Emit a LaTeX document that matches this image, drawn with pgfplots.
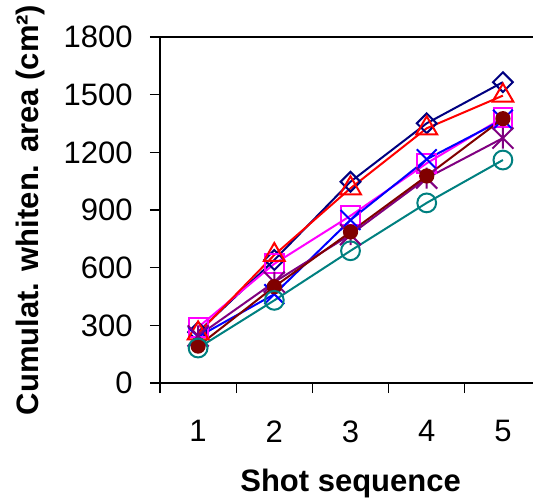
\documentclass[border=0pt]{standalone}
\usepackage{fontspec}
\setmainfont{Liberation Sans}
\usepackage{pgfplots}
\pgfplotsset{compat=1.18}

\definecolor{xnavy}{RGB}{0,0,128}
\definecolor{xmagenta}{RGB}{255,0,255}
\definecolor{xred}{RGB}{255,0,0}
\definecolor{xblue}{RGB}{0,0,255}
\definecolor{xpurple}{RGB}{128,0,128}
\definecolor{xmaroon}{RGB}{128,0,0}
\definecolor{xteal}{RGB}{0,128,128}

% Excel-style star: an x with a vertical bar through it
\pgfdeclareplotmark{xstar}{%
  \pgfpathmoveto{\pgfqpoint{0pt}{\pgfplotmarksize}}%
  \pgfpathlineto{\pgfqpoint{0pt}{-\pgfplotmarksize}}%
  \pgfpathmoveto{\pgfqpoint{-\pgfplotmarksize}{-\pgfplotmarksize}}%
  \pgfpathlineto{\pgfqpoint{\pgfplotmarksize}{\pgfplotmarksize}}%
  \pgfpathmoveto{\pgfqpoint{-\pgfplotmarksize}{\pgfplotmarksize}}%
  \pgfpathlineto{\pgfqpoint{\pgfplotmarksize}{-\pgfplotmarksize}}%
  \pgfusepathqstroke}

\begin{document}
\fontsize{15.5}{18.6}\selectfont
\begin{tikzpicture}
    \useasboundingbox (-80pt,-57pt) rectangle (186.5pt,191.5pt);
    \begin{axis}[
        scale only axis,
        width=186.5pt,
        height=173pt,
        xmin=0.5, xmax=5.395,
        ymin=0, ymax=1800,
        axis x line*=box,
        axis y line*=left,
        axis line style={black, line width=0.8pt},
        xtick={1,2,3,4,5},
        minor xtick={0.5,1.5,2.5,3.5,4.5},
        every major x tick/.append style={draw=none},
        xtick pos=bottom,
        ytick={0,300,...,1800},
        ytick pos=left,
        tick align=outside,
        major tick length=5pt,
        minor tick length=5pt,
        tick style={black, line width=0.6pt},
        /pgf/number format/assume math mode=true,
        /pgf/number format/1000 sep={},
        ticklabel style={font=\fontsize{15.5}{18.6}\selectfont},
        yticklabel style={anchor=east, inner sep=0pt, xshift=-8.5pt},
        xticklabel style={anchor=north, inner sep=0pt, yshift=-13.5pt},
        xlabel={Shot sequence},
        ylabel={Cumulat. whiten. area (cm²)},
        xlabel style={at={(axis description cs:0.511,-0.315)}, anchor=base,
            font=\fontsize{15.5}{18.6}\selectfont\bfseries},
        ylabel style={at={(axis description cs:-0.3485,0.5)}, anchor=center,
            font=\fontsize{15.5}{18.6}\selectfont\bfseries},
        clip=false,
        every axis plot/.append style={line width=1pt},
    ]
        \addplot[color=xnavy, mark=square, mark size=3.5pt,
            mark options={rotate=45, fill=none}] coordinates {
            (1,265) (2,640) (3,1047) (4,1351) (5,1565)
        };
        \addplot[color=xmagenta, mark=square, mark size=4.7pt,
            mark options={fill=none}] coordinates {
            (1,290) (2,620) (3,870) (4,1143) (5,1380)
        };
        \addplot[color=xred, mark=triangle, mark size=6pt,
            mark options={fill=none}] coordinates {
            (1,258) (2,666) (3,1013) (4,1325) (5,1495)
        };
        \addplot[color=xblue, mark=x, mark size=7pt] coordinates {
            (1,240) (2,462) (3,848) (4,1164) (5,1370)
        };
        \addplot[color=xpurple, mark=xstar, mark size=5.25pt] coordinates {
            (1,245) (2,525) (3,772) (4,1066) (5,1274)
        };
        \addplot[color=xmaroon, mark=*, mark size=3.3pt,
            mark options={fill=xmaroon}] coordinates {
            (1,192) (2,501) (3,786) (4,1077) (5,1375)
        };
        \addplot[color=xteal, mark=o, mark size=4.7pt] coordinates {
            (1,182) (2,430) (3,688) (4,937) (5,1160)
        };
    \end{axis}
\end{tikzpicture}
\end{document}
